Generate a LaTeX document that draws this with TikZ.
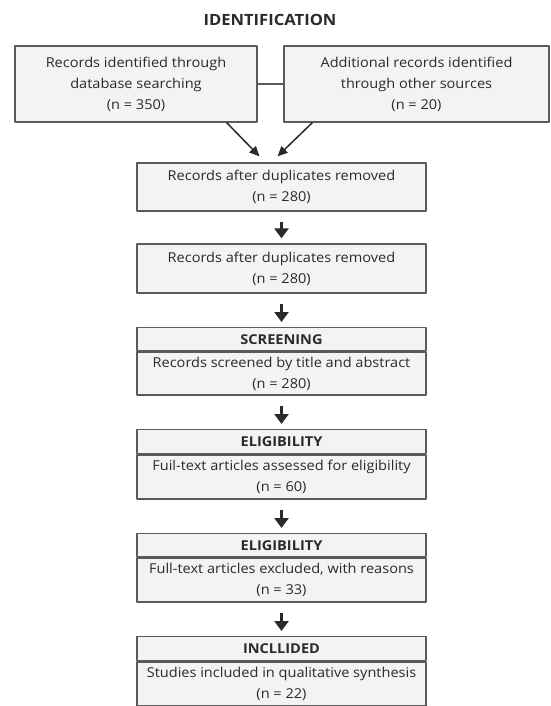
\documentclass[tikz,border=0pt]{standalone}
\usepackage{fontspec}
\setmainfont{Open Sans}[FakeStretch=1.07]
\usetikzlibrary{arrows.meta}
\definecolor{boxline}{HTML}{5A5A5A}
\definecolor{boxfill}{HTML}{F3F3F3}
\definecolor{txt}{HTML}{2A2A2A}

\begin{document}
\begin{tikzpicture}[x=1pt,y=-1pt,line join=round,
	box/.style={draw=boxline,fill=boxfill,line width=1.3pt,text=txt,align=center,inner sep=0pt,font=\fontsize{13.6}{21}\selectfont},
	head/.style={box,font=\bfseries\fontsize{13.6}{16}\selectfont},
	bigarrow/.style={-{Triangle[width=14pt,length=10pt]},line width=3pt,draw=txt,shorten <=10pt,shorten >=5pt},
	thinarrow/.style={-{Triangle[width=9pt,length=10pt]},line width=1.5pt,draw=txt}]
			\useasboundingbox (0,0) rectangle (550,706);
			\node[text=txt,font=\bfseries\fontsize{15.5}{18}\selectfont] (ident) at (270,20) {IDENTIFICATION};
			\node[box,minimum width=242pt,minimum height=76pt] (db) at (136,84) {Records identified through\\database searching\\(n = 350)};
			\node[box,minimum width=265pt,minimum height=76pt] (other) at (416.5,84) {Additional records identified\\through other sources\\(n = 20)};
			\draw[line width=1.3pt,draw=boxline] (db.east) -- (other.west);
			\node[box,minimum width=289pt,minimum height=48pt] (dupa) at (281.5,187) {Records after duplicates removed\\(n = 280)};
			\node[box,minimum width=289pt,minimum height=49pt] (dupb) at (281.5,268.5) {Records after duplicates removed\\(n = 280)};
			% screening
			\node[head,minimum width=289pt,minimum height=23pt,anchor=north] (screenhead) at (281.5,327) {SCREENING};
			\node[box,minimum width=289pt,minimum height=43pt,anchor=north] (screen) at (screenhead.south) {Records screened by title and abstract\\(n = 280)};
			% eligibility
			\node[head,minimum width=289pt,minimum height=24pt,anchor=north] (assesshead) at (281.5,429) {ELIGIBILITY};
			\node[box,minimum width=289pt,minimum height=44pt,anchor=north] (assess) at (assesshead.south) {Fuil-text articles assessed for eligibility\\(n = 60)};
			\node[head,minimum width=289pt,minimum height=23pt,anchor=north] (excludehead) at (281.5,533) {ELIGIBILITY};
			\node[box,minimum width=289pt,minimum height=44pt,anchor=north] (exclude) at (excludehead.south) {Full-text articles excluded, with reasons\\(n = 33)};
			% included
			\node[head,minimum width=289pt,minimum height=24pt,anchor=north] (includehead) at (281.5,636) {INCLLIDED};
			\node[box,minimum width=289pt,minimum height=44pt,anchor=north] (include) at (includehead.south) {Studies included in qualitative synthesis\\(n = 22)};
			\draw[thinarrow] ([xshift=-31pt]db.south east) -- ([xshift=-22pt,yshift=6pt]dupa.north);
			\draw[thinarrow] ([xshift=29pt]other.south west) -- ([xshift=-4pt,yshift=6pt]dupa.north);
			\draw[bigarrow] (dupa) -- (dupb);
			\draw[bigarrow] (dupb) -- (screenhead);
			\draw[bigarrow] (screen) -- (assesshead);
			\draw[bigarrow] (assess) -- (excludehead);
			\draw[bigarrow] (exclude) -- (includehead);
		\end{tikzpicture}
\end{document}
